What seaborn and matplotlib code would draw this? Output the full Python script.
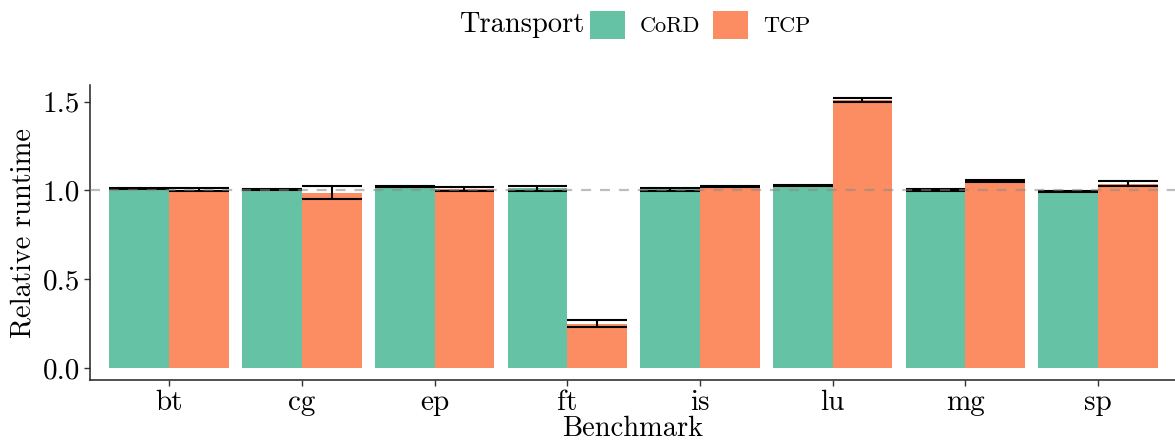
import numpy as np
import pandas as pd
import matplotlib
matplotlib.use("Agg")
import matplotlib.pyplot as plt
import seaborn as sns

benchmarks = ["bt", "cg", "ep", "ft", "is", "lu", "mg", "sp"]
transports = ["CoRD", "TCP"]
cord_mean = [1.012, 1.006, 1.021, 1.012, 1.006, 1.027, 1.004, 0.993]
cord_err = [0.003, 0.002, 0.004, 0.014, 0.009, 0.003, 0.006, 0.003]
tcp_mean = [1.005, 0.988, 1.010, 0.249, 1.021, 1.508, 1.054, 1.038]
tcp_err = [0.009, 0.037, 0.011, 0.019, 0.004, 0.010, 0.004, 0.013]
palette = {"CoRD": "#66C2A5", "TCP": "#FC8D62"}

df = pd.DataFrame({
    "Benchmark": benchmarks * 2,
    "Transport": ["CoRD"] * len(benchmarks) + ["TCP"] * len(benchmarks),
    "mean": cord_mean + tcp_mean,
    "err": cord_err + tcp_err,
})

sns.set_theme(style="ticks")
plt.rcParams["font.family"] = ["cmr10", "DejaVu Serif"]
plt.rcParams["mathtext.fontset"] = "cm"
plt.rcParams["axes.formatter.use_mathtext"] = True
plt.rcParams["text.color"] = "black"
plt.rcParams["axes.labelcolor"] = "black"

fig = plt.figure(figsize=(11.75, 4.45), dpi=100)
ax = fig.add_axes([0.0762, 0.146, 0.9238, 0.663])

width = 0.9
sns.barplot(data=df, x="Benchmark", y="mean", hue="Transport",
            order=benchmarks, hue_order=transports, palette=palette,
            width=width, errorbar=None, saturation=1, linewidth=0,
            legend=False, ax=ax)

# error bars: caps span the full width of each dodged bar
bw = width / len(transports)
for j, t in enumerate(transports):
    sub = df[df["Transport"] == t].set_index("Benchmark").loc[benchmarks]
    xc = np.arange(len(benchmarks)) - width / 2 + bw * (j + 0.5)
    lo = sub["mean"].values - sub["err"].values
    hi = sub["mean"].values + sub["err"].values
    ax.hlines(lo, xc - bw / 2, xc + bw / 2, color="black", lw=1.5, zorder=4)
    ax.hlines(hi, xc - bw / 2, xc + bw / 2, color="black", lw=1.5, zorder=4)
    ax.vlines(xc, lo, hi, color="black", lw=1.5, zorder=4)

ax.axhline(1.0, color="#888888", lw=1.6, ls=(0, (4.5, 4)), alpha=0.55, zorder=5)

ax.set_xlim(-0.6, len(benchmarks) - 0.42)
ax.set_ylim(-0.068, 1.594)
ax.set_yticks([0.0, 0.5, 1.0, 1.5])
ax.set_yticklabels(["0.0", "0.5", "1.0", "1.5"])
ax.set_xlabel("Benchmark", fontsize=20.5, labelpad=0)
ax.set_ylabel("Relative runtime", fontsize=20.5, labelpad=4)
ax.tick_params(axis="both", labelsize=21, length=4, width=1, color="#333333",
               labelcolor="black", pad=3)
sns.despine(ax=ax)
for s in ("left", "bottom"):
    ax.spines[s].set_linewidth(1.1)
    ax.spines[s].set_color("#222222")

handles = [matplotlib.patches.Patch(facecolor=palette[t], edgecolor="none", label=t)
           for t in transports]
leg = fig.legend(handles=handles, loc="center left", bbox_to_anchor=(0.502, 0.944),
                 ncol=2, frameon=False, fontsize=16, handlelength=1.58,
                 handleheight=1.58, handletextpad=0.65, columnspacing=0.6,
                 borderpad=0, borderaxespad=0)
fig.text(0.4975, 0.944, "Transport", fontsize=20.5, ha="right", va="center")

fig.savefig("out.png", dpi=100)
